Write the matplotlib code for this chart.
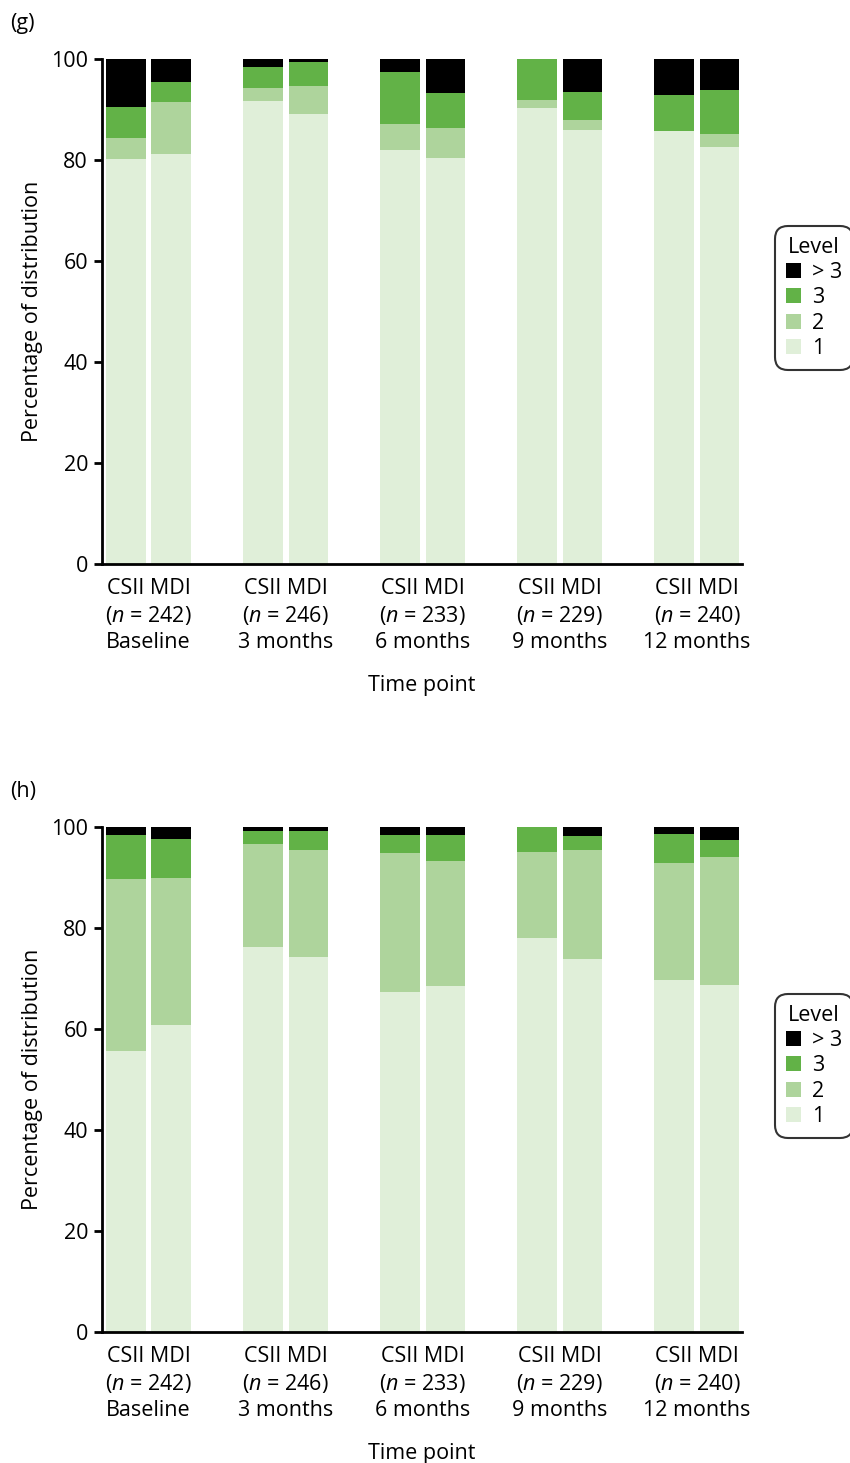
import numpy as np
import matplotlib
matplotlib.use("Agg")
import matplotlib.pyplot as plt
from matplotlib.patches import Patch

plt.rcParams['font.family'] = ['Open Sans', 'DejaVu Sans']
plt.rcParams['mathtext.fontset'] = 'custom'
plt.rcParams['mathtext.it'] = 'Open Sans:italic'
plt.rcParams['mathtext.rm'] = 'Open Sans'

# Time points and sample sizes
time_points = ['Baseline', '3 months', '6 months', '9 months', '12 months']
n_values = [242, 246, 233, 229, 240]
groups = ['CSII', 'MDI']
levels = ['1', '2', '3', '>3']

# Panel (g): percentages per level, order CSII, MDI for each time point
g_level1 = [80.1, 81.1, 91.6, 89.2, 82.0, 80.4, 90.2, 86.0, 85.7, 82.5]
g_level2 = [4.3, 10.3, 2.6, 5.5, 5.1, 5.9, 1.7, 1.9, 0.0, 2.6]
g_level3 = [6.1, 4.0, 4.2, 4.6, 10.3, 6.9, 8.1, 5.6, 7.2, 8.8]
g_level4 = [9.5, 4.6, 1.6, 0.7, 2.6, 6.8, 0.0, 6.5, 7.1, 6.1]

# Panel (h)
h_level1 = [55.7, 60.7, 76.3, 74.3, 67.3, 68.4, 77.9, 73.9, 69.6, 68.6]
h_level2 = [33.9, 29.1, 20.3, 21.1, 27.6, 24.9, 17.2, 21.5, 23.3, 25.5]
h_level3 = [8.75, 7.8, 2.6, 3.8, 3.45, 5.05, 4.9, 2.8, 5.6, 3.3]
h_level4 = [1.65, 2.4, 0.8, 0.8, 1.65, 1.65, 0.0, 1.8, 1.5, 2.6]

colors = ['#e0efd9', '#aed49c', '#62b247', '#000000']

fig = plt.figure(figsize=(8.5, 14.63), dpi=100)

panels = [
    ('(g)', [g_level1, g_level2, g_level3, g_level4], 0.6145),
    ('(h)', [h_level1, h_level2, h_level3, h_level4], 0.0896),
]

fs = 15.5
x = np.arange(len(time_points))
offset = 0.166
width = 0.29

for tag, data, bottom_pos in panels:
    ax = fig.add_axes([0.12, bottom_pos, 0.753, 0.3452])
    data = np.array(data)
    for gi in range(2):
        bottom = np.zeros(len(time_points))
        for li in range(4):
            vals = data[li, gi::2]
            ax.bar(x + (2 * gi - 1) * offset, vals, width, bottom=bottom,
                   color=colors[li], edgecolor='none')
            bottom += vals
    ax.set_xlim(-0.34, 4.33)
    ax.set_ylim(0, 100)
    ax.set_yticks([0, 20, 40, 60, 80, 100])
    ax.tick_params(axis='y', labelsize=fs, width=2, length=6, pad=4)
    ax.tick_params(axis='x', length=0, pad=10, labelsize=fs)
    labels = ['CSII MDI\n($\\mathit{n}$ = %d)\n%s' % (n, t) for n, t in zip(n_values, time_points)]
    ax.set_xticks(x)
    ax.set_xticklabels(labels, linespacing=1.3)
    ax.spines['top'].set_visible(False)
    ax.spines['right'].set_visible(False)
    ax.spines['left'].set_linewidth(2)
    ax.spines['bottom'].set_linewidth(2)
    ax.set_ylabel('Percentage of distribution', fontsize=fs, labelpad=6)
    ax.set_xlabel('Time point', fontsize=fs, labelpad=16)
    fig.text(0.012, bottom_pos + 0.3452 + 0.024, tag, fontsize=fs, va='center', ha='left')

    handles = [Patch(facecolor=colors[i], edgecolor='none', label=('> 3' if i == 3 else levels[i]))
               for i in [3, 2, 1, 0]]
    leg = ax.legend(handles=handles, title='Level', loc='center left',
                    bbox_to_anchor=(0.917, bottom_pos + 0.3452 * 0.527), bbox_transform=fig.transFigure,
                    fontsize=fs, title_fontsize=fs, frameon=True, fancybox=True,
                    handlelength=0.7, handleheight=0.7, handletextpad=0.5,
                    labelspacing=0.2, borderpad=0.3, borderaxespad=0)
    leg.get_frame().set_edgecolor('black')
    leg.get_frame().set_linewidth(1.5)
    leg.get_frame().set_boxstyle('round,pad=0.2,rounding_size=0.6')

fig.savefig('out.png', dpi=100)
